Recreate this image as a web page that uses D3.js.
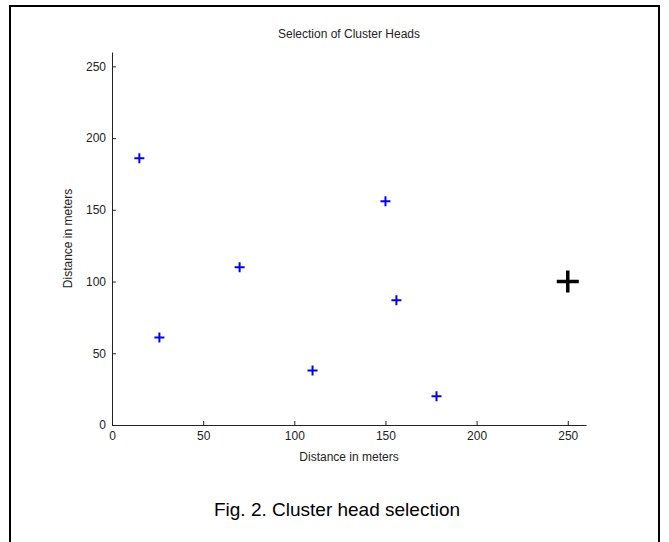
<!DOCTYPE html>
<html>
<head>
<meta charset="utf-8">
<script src="https://cdn.jsdelivr.net/npm/d3@7"></script>
<style>
  body { margin: 0; background: #fff; }
  svg { display: block; }
  .axis text { font-family: "Liberation Sans", Arial, sans-serif; font-size: 12px; fill: #222; }
  .axis path, .axis line { stroke: #222; }
</style>
</head>
<body>
<div id="chart"></div>
<script>
// sensor nodes (blue) and base station (black)
const nodeX = [15, 26, 70, 110, 150, 156, 178];
const nodeY = [186, 61, 110, 38, 156, 87, 20];
const baseX = [250];
const baseY = [100];
const xTicks = [0, 50, 100, 150, 200, 250];
const yTicks = [0, 50, 100, 150, 200, 250];

const W = 669, H = 542;
const margin = {top: 52, right: 83, bottom: 117, left: 112};
const width = W - margin.left - margin.right;
const height = H - margin.top - margin.bottom;

const root = d3.select("#chart")
  .append("svg")
    .attr("width", W)
    .attr("height", H);

// outer frame
root.append("rect")
  .attr("x", 10)
  .attr("y", 6)
  .attr("width", 649)
  .attr("height", 545)
  .attr("fill", "none")
  .attr("stroke", "#000")
  .attr("stroke-width", 2);

const svg = root.append("g")
  .attr("transform", `translate(${margin.left}, ${margin.top})`);

const x = d3.scaleLinear().domain([0, 260]).range([0, width]);
const y = d3.scaleLinear().domain([0, 260]).range([height, 0]);

svg.append("g")
  .attr("class", "axis")
  .attr("transform", `translate(0, ${height})`)
  .call(d3.axisBottom(x).tickValues(xTicks).tickSize(-4).tickSizeOuter(0).tickPadding(6));

svg.append("g")
  .attr("class", "axis")
  .call(d3.axisLeft(y).tickValues(yTicks).tickSize(-4).tickSizeOuter(0).tickPadding(6));

// plus markers
const plus = (g, s) => `M${-s},0H${s}M0,${-s}V${s}`;

svg.selectAll(".node")
  .data(nodeX.map((d, i) => [d, nodeY[i]]))
  .join("path")
    .attr("class", "node")
    .attr("transform", d => `translate(${x(d[0])}, ${y(d[1])})`)
    .attr("d", d => plus(d, 5))
    .attr("stroke", "#0000ff")
    .attr("stroke-width", 2)
    .attr("fill", "none");

svg.selectAll(".base")
  .data(baseX.map((d, i) => [d, baseY[i]]))
  .join("path")
    .attr("class", "base")
    .attr("transform", d => `translate(${x(d[0])}, ${y(d[1])})`)
    .attr("d", d => plus(d, 11))
    .attr("stroke", "#000")
    .attr("stroke-width", 3.5)
    .attr("fill", "none");

// title
svg.append("text")
  .attr("x", width / 2)
  .attr("y", -14)
  .attr("text-anchor", "middle")
  .style("font-family", "'Liberation Sans', Arial, sans-serif")
  .style("font-size", "12px")
  .style("fill", "#222")
  .text("Selection of Cluster Heads");

// axis labels
svg.append("text")
  .attr("x", width / 2)
  .attr("y", height + 36)
  .attr("text-anchor", "middle")
  .style("font-family", "'Liberation Sans', Arial, sans-serif")
  .style("font-size", "12px")
  .style("fill", "#222")
  .text("Distance in meters");

svg.append("text")
  .attr("transform", `translate(-40, ${height / 2}) rotate(-90)`)
  .attr("text-anchor", "middle")
  .style("font-family", "'Liberation Sans', Arial, sans-serif")
  .style("font-size", "12px")
  .style("fill", "#222")
  .text("Distance in meters");

// caption
root.append("text")
  .attr("x", 337)
  .attr("y", 516)
  .attr("text-anchor", "middle")
  .style("font-family", "'Liberation Sans', Arial, sans-serif")
  .style("font-size", "19px")
  .style("fill", "#000")
  .text("Fig. 2. Cluster head selection");
</script>
</body>
</html>
